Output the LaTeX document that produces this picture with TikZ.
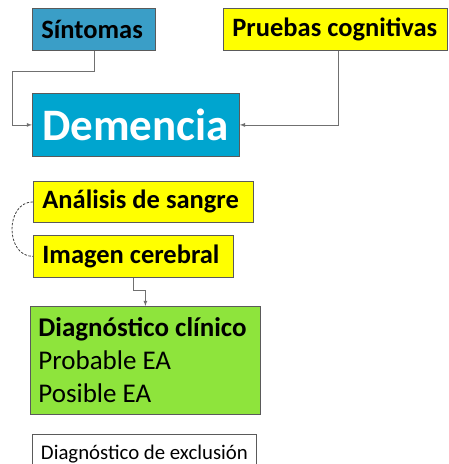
\documentclass[tikz,border=0pt]{standalone}
\usepackage{fontspec}
\setmainfont{Carlito}
\usepackage{tikz}
\usepackage{xcolor}
\definecolor{sintoma}{HTML}{3A9EC7}
\definecolor{demencia}{HTML}{00A5CF}
\definecolor{prueba}{HTML}{FFFF00}
\definecolor{clinico}{HTML}{8EE43C}
\definecolor{borde}{HTML}{5A5A5A}
\definecolor{linea}{HTML}{707070}

\tikzset{
	caja/.style={rectangle, draw=borde, line width=0.8pt, anchor=north west, 
		inner xsep=9pt, inner ysep=0pt, align=flush left},
	conector/.style={draw=linea, line width=0.8pt, -latex},
}

\begin{document}
\begin{tikzpicture}[x=1pt, y=-1pt]
	\useasboundingbox (0,0) rectangle (448,464); 
	\node[caja, fill=sintoma, text width=105pt, minimum height=42pt, 
		font=\bfseries\fontsize{26.5}{30}\selectfont] (sintomas) at (32,8) {Síntomas}; 
	\node[caja, fill=prueba, text width=206pt, minimum height=42pt, 
		font=\bfseries\fontsize{26.5}{30}\selectfont] (pruebas) at (223,8) {\mbox{Pruebas cognitivas}}; 
	\node[caja, fill=demencia, text=white, inner xsep=10pt, text width=187pt, minimum height=63pt, 
		font=\bfseries\fontsize{45}{50}\selectfont] (demencia) at (32,93) {Demencia}; 
	\node[caja, fill=prueba, text width=202pt, minimum height=41pt, 
		font=\bfseries\fontsize{26.5}{30}\selectfont] (analisis) at (33,181) {\mbox{Análisis de sangre}}; 
	\node[caja, fill=prueba, text width=182pt, minimum height=42pt, 
		font=\bfseries\fontsize{26.5}{30}\selectfont] (imagen) at (33,235) {\mbox{Imagen cerebral}}; 
	\node[caja, fill=clinico, inner xsep=8pt, text width=214pt, minimum height=108pt, 
		font=\fontsize{27}{33}\selectfont] (clinico) at (30,306) 
		{\mbox{\textbf{Diagnóstico clínico}}\\Probable EA\\Posible EA}; 
	\node[caja, fill=white, inner xsep=5pt, minimum width=224pt, minimum height=40pt, 
		font=\fontsize{20.8}{24}\selectfont] (exclusion) at (32,434) {Diagnóstico de exclusión}; 

	% conectores
	\draw[conector] (sintomas.south) -- ++(0,21) -| ([xshift=-20pt]demencia.west) -- (demencia.west); 
	\draw[conector] ([xshift=3pt]pruebas.south) |- (demencia.east); 
	\draw[conector] (imagen.south) -- ++(0,13) -| (clinico.north); 
	\draw[draw=black!75, line width=0.8pt, dashed, dash pattern=on 2.5pt off 1.5pt] 
		(analisis.west) .. controls +(-28,0) and +(-28,0) .. (imagen.west); 
\end{tikzpicture}
\end{document}
